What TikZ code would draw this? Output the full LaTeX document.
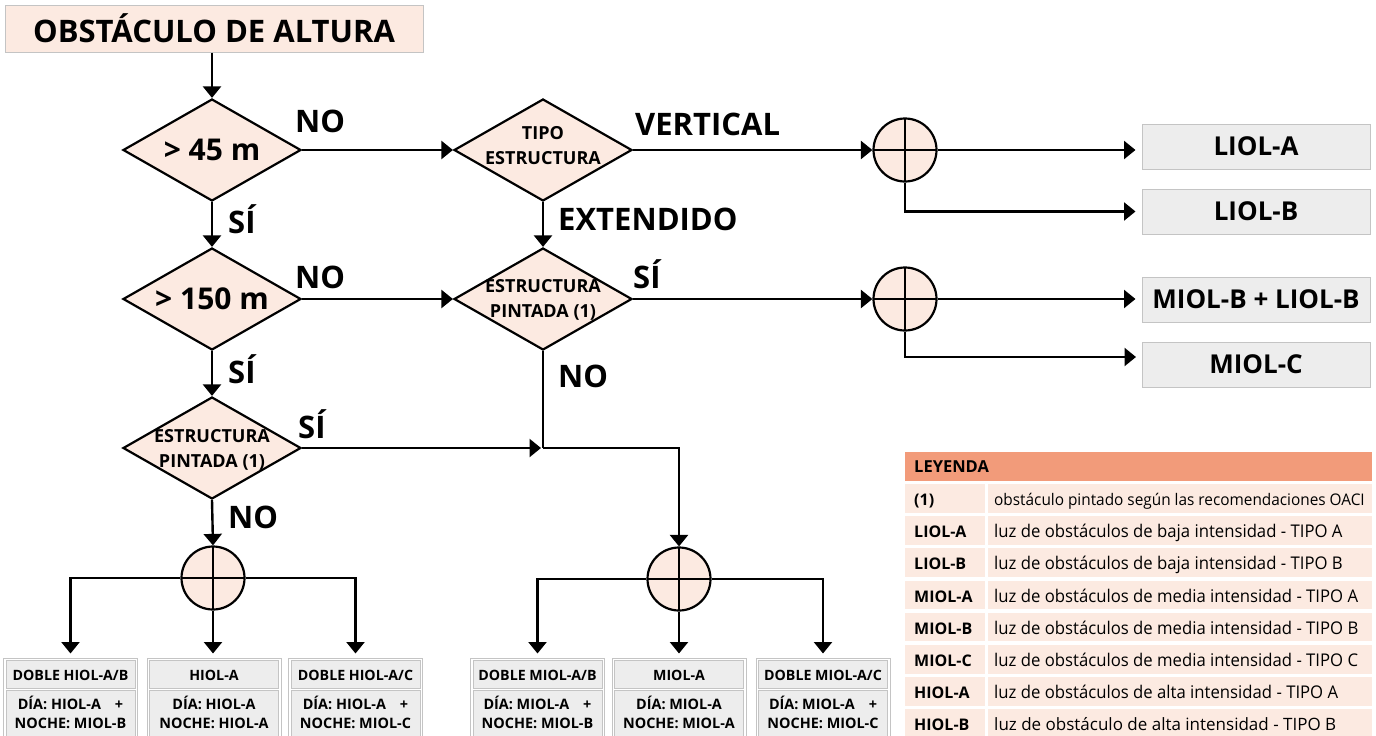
\documentclass[tikz,border=0pt]{standalone}
\usepackage{fontspec}
\setmainfont{Open Sans}
\usetikzlibrary{shapes.geometric,arrows.meta}
\definecolor{peach}{HTML}{FCEAE1}
\definecolor{salmon}{HTML}{F29B7A}
\definecolor{boxgrey}{HTML}{EDEDED}
\definecolor{edgegrey}{HTML}{C4C4C4}
\tikzset{
  dec/.style={diamond, draw=black, line width=2.2pt, fill=peach, minimum width=178pt, minimum height=102pt, inner sep=0pt, aspect=1.75},
  dtxt/.style={align=center, inner sep=0pt, font=\bfseries\fontsize{18}{25}\selectfont},
  dbig/.style={inner sep=0pt, font=\bfseries\fontsize{30}{32}\selectfont},
  junc/.style={circle, draw=black, line width=2.2pt, fill=peach, minimum size=63pt, inner sep=0pt,
    path picture={\draw[line width=2.2pt] (path picture bounding box.north) -- (path picture bounding box.south) (path picture bounding box.west) -- (path picture bounding box.east);}},
  conn/.style={line width=2.4pt, -{Triangle[width=18pt,length=11.5pt]}},
  plain/.style={line width=2.4pt},
  lbl/.style={anchor=base west, inner sep=0pt, font=\bfseries\fontsize{31}{32}\selectfont},
  res/.style={draw=edgegrey, line width=1pt, fill=boxgrey, minimum width=228pt, minimum height=45pt, inner sep=0pt, font=\bfseries\fontsize{26}{28}\selectfont},
  frame/.style={draw=edgegrey, line width=1pt, fill=white, minimum width=134pt, minimum height=80pt, inner sep=0pt},
  cell/.style={draw=edgegrey, line width=0.8pt, fill=boxgrey},
  htxt/.style={inner sep=0pt, font=\bfseries\fontsize{14.2}{16}\selectfont},
  btxt/.style={inner sep=0pt, align=center, font=\bfseries\fontsize{14.4}{19}\selectfont},
  lkey/.style={anchor=base west, inner sep=0pt, font=\bfseries\fontsize{16}{18}\selectfont},
  ldesc/.style={anchor=base west, inner sep=0pt, font=\fontsize{17.5}{19}\selectfont},
}
\begin{document}
\begin{tikzpicture}[x=1pt,y=-1pt]
\useasboundingbox (0,0) rectangle (1376,736);
% title
\node[draw=edgegrey, line width=1pt, fill=peach, minimum width=418pt, minimum height=47pt, inner sep=0pt,
      font=\bfseries\fontsize{31}{33}\selectfont] (title) at (214,28.5) {OBSTÁCULO DE ALTURA};
% decisions
\node[dec] (d1) at (212,150) {};
\node[dbig] at (d1) {> 45 m};
\node[dec] (d2) at (543,150) {};
\node[dtxt] at ([yshift=4pt]d2.center) {TIPO\\ESTRUCTURA};
\node[dec] (d3) at (212,299) {};
\node[dbig] at (d3) {> 150 m};
\node[dec] (d4) at (543,299) {};
\node[dtxt] at ([yshift=-1pt]d4.center) {ESTRUCTURA\\PINTADA (1)};
\node[dec] (d5) at (212,448) {};
\node[dtxt] at ([yshift=-2pt]d5.center) {ESTRUCTURA\\PINTADA (1)};
% junctions
\node[junc] (c1) at (905,150) {};
\node[junc] (c2) at (905,299) {};
\node[junc] (c3) at (213,578) {};
\node[junc] (c4) at (679,579) {};
\coordinate (j) at (543,448);
% result boxes
\node[res] (r1) at (1256,146.5) {LIOL-A};
\node[res] (r2) at (1256,211.5) {LIOL-B};
\node[res] (r3) at (1256,299.5) {MIOL-B + LIOL-B};
\node[res] (r4) at (1256,364.5) {MIOL-C};
\coordinate (r4in) at (1136,357);
% bottom boxes
\foreach \n/\cx/\h/\ba/\bb in {
  b1/70.5/{DOBLE HIOL-A/B}/{DÍA: HIOL-A\hspace{14pt}+}/{NOCHE: MIOL-B},
  b2/214/{HIOL-A}/{DÍA: HIOL-A}/{NOCHE: HIOL-A},
  b3/355.5/{DOBLE HIOL-A/C}/{DÍA: HIOL-A\hspace{14pt}+}/{NOCHE: MIOL-C},
  b4/537.5/{DOBLE MIOL-A/B}/{DÍA: MIOL-A\hspace{14pt}+}/{NOCHE: MIOL-B},
  b5/679/{MIOL-A}/{DÍA: MIOL-A}/{NOCHE: MIOL-A},
  b6/823/{DOBLE MIOL-A/C}/{DÍA: MIOL-A\hspace{14pt}+}/{NOCHE: MIOL-C}}{
  \node[frame] (\n) at (\cx,698) {};
  \path[cell] ([xshift=3pt,yshift=-3pt]\n.north west) rectangle ([xshift=-3pt,yshift=-31pt]\n.north east);
  \path[cell] ([xshift=3pt,yshift=-33pt]\n.north west) rectangle ([xshift=-3pt,yshift=2pt]\n.south east);
  \node[htxt] at ([yshift=-18pt]\n.north) {\h};
  \node[btxt] at ([yshift=-55pt]\n.north) {\ba\\\bb};
}
% connectors
\draw[conn] (title.south -| d1.north) -- (d1.north);
\draw[conn] (d1.east) -- (d2.west);
\draw[conn] (d2.east) -- (c1.west);
\draw[conn, shorten >=6pt] (c1.east) -- (c1.east -| r1.west);
\draw[conn, shorten >=6pt] (c1.south) |- (r2.west);
\draw[conn] (d1.south) -- (d3.north);
\draw[conn] (d2.south) -- (d4.north);
\draw[conn] (d3.east) -- (d4.west);
\draw[conn] (d4.east) -- (c2.west);
\draw[conn, shorten >=6pt] (c2.east) -- (c2.east -| r3.west);
\draw[conn] (c2.south) |- (r4in);
\draw[conn] (d3.south) -- (d5.north);
\draw[plain] (d4.south) -- (j);
\draw[conn, shorten >=2pt] (d5.east) -- (j);
\draw[conn] (j) -| (c4.north);
\draw[conn] (d5.south) -- (c3.north);
\draw[conn, shorten >=4pt] (c3.west) -| (b1.north);
\draw[conn, shorten >=4pt] (c3.south) -- (c3.south |- b2.north);
\draw[conn, shorten >=4pt] (c3.east) -| (b3.north);
\draw[conn, shorten >=4pt] (c4.west) -| (b4.north);
\draw[conn, shorten >=4pt] (c4.south) -- (b5.north);
\draw[conn, shorten >=4pt] (c4.east) -| (b6.north);
% labels
\node[lbl] at (295,132) {NO};
\node[lbl] at (635,135) {VERTICAL};
\node[lbl] at (228,233) {SÍ};
\node[lbl] at (558,230) {EXTENDIDO};
\node[lbl] at (295,288) {NO};
\node[lbl] at (633,288) {SÍ};
\node[lbl] at (228,383) {SÍ};
\node[lbl] at (558,387) {NO};
\node[lbl] at (298,438) {SÍ};
\node[lbl] at (228,528) {NO};
% legend
\fill[salmon] (905,452) rectangle (1372,481);
\node[lkey, font=\bfseries\fontsize{16.5}{18}\selectfont] (leg) at (914,472) {LEYENDA};
\foreach \i/\k/\d in {
  1/{LIOL-A}/{luz de obstáculos de baja intensidad - TIPO A},
  2/{LIOL-B}/{luz de obstáculos de baja intensidad - TIPO B},
  3/{MIOL-A}/{luz de obstáculos de media intensidad - TIPO A},
  4/{MIOL-B}/{luz de obstáculos de media intensidad - TIPO B},
  5/{MIOL-C}/{luz de obstáculos de media intensidad - TIPO C},
  6/{HIOL-A}/{luz de obstáculos de alta intensidad - TIPO A}}{
  \fill[peach] (905,484+32.2*\i) rectangle (985,512.5+32.2*\i);
  \fill[peach] (988,484+32.2*\i) rectangle (1372,512.5+32.2*\i);
  \node[lkey] at (914,505.5+32.2*\i) {\k};
  \node[ldesc] at (994,505.5+32.2*\i) {\scalebox{0.955}[1]{\d}};
}
\fill[peach] (905,484) rectangle (985,512.5);
\fill[peach] (988,484) rectangle (1372,512.5);
\node[lkey] at (914,505.5) {(1)};
\node[ldesc, font=\fontsize{16}{18}\selectfont] at (994,505.5) {\scalebox{0.96}[1]{obstáculo pintado según las recomendaciones OACI}};
\fill[peach] (905,709.4) rectangle (985,738);
\fill[peach] (988,709.4) rectangle (1372,738);
\node[lkey] at (914,730.9) {HIOL-B};
\node[ldesc, font=\fontsize{17}{19}\selectfont] at (994,730.9) {luz de obstáculo de alta intensidad - TIPO B};
\end{tikzpicture}
\end{document}
